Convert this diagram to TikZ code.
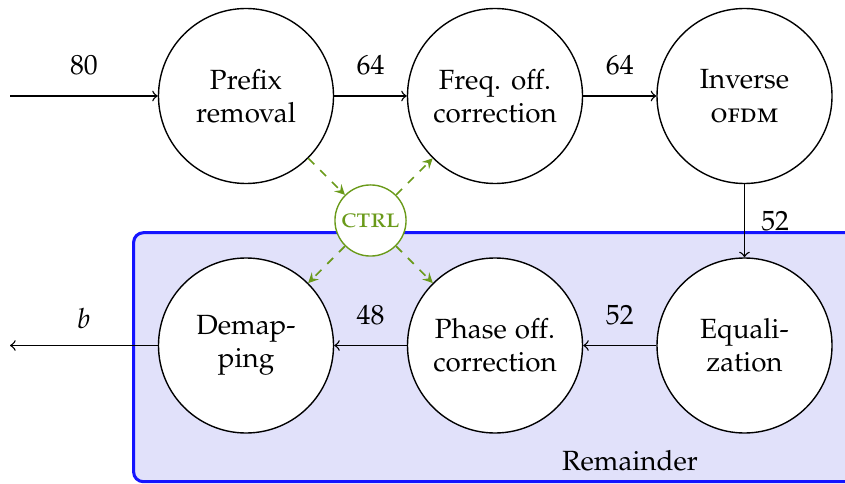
\documentclass[tikz,border=0pt]{standalone}
\usepackage[T1]{fontenc}
\usepackage[sc]{mathpazo}
\begin{document}
\begin{tikzpicture}[x=1pt,y=1pt,
  block/.style={circle,draw=drawColor,fill=white,line width=0.5pt,minimum size=63pt,inner sep=0pt,align=center},
  ctrlnode/.style={circle,draw=ctrlColor,fill=white,text=ctrlColor,line width=0.5pt,minimum size=25.6pt,inner sep=0pt},
  flow/.style={draw=drawColor,line width=0.5pt,->},
  ctrlflow/.style={draw=ctrlColor,line width=0.6pt,dashed,-stealth},
  rate/.style={inner sep=0pt,text=drawColor}]
\definecolor{drawColor}{RGB}{0,0,0}
\definecolor{ctrlColor}{RGB}{106,154,26}
\definecolor{boxColor}{RGB}{20,20,255}
\definecolor{boxFill}{RGB}{225,225,250}
\path[use as bounding box] (0,0) rectangle (304.20,173.88);
\begin{scope}
\path[clip] (  0.00,  0.00) rectangle (304.20,173.88);

\path[draw=boxColor,fill=boxFill,line width=1.1pt,rounded corners=3.5pt] ( 48.10,  0.47) rectangle (308.34, 90.10);

\node[anchor=base,inner sep=0pt] (remainder) at (226.80,  4.68) {Remainder};
\end{scope}

% stages
\node[block] (prefix) at ( 88.56,139.32) {Prefix\\removal};
\node[block] (freq) at (178.20,139.32) {Freq. off.\\correction};
\node[block] (inverse) at (268.02,139.32) {Inverse\\\textsc{ofdm}};
\node[block] (equal) at (268.02, 49.50) {Equali-\\zation};
\node[block] (phase) at (178.20, 49.50) {Phase off.\\correction};
\node[block] (demap) at ( 88.56, 49.50) {Demap-\\ping};
\node[ctrlnode] (ctrl) at (133.38, 94.50) {\textsc{ctrl}};

\coordinate (input) at (  3.60,139.32);
\coordinate (output) at (  3.60, 49.50);

% data path
\draw[flow] (input) -- (prefix) node[midway,above=7.2pt,rate] {80};
\draw[flow] (prefix) -- (freq) node[midway,above=7.2pt,rate] {64};
\draw[flow] (freq) -- (inverse) node[midway,above=7.2pt,rate] {64};
\draw[flow] (inverse) -- (equal) node[midway,right=5.8pt,rate] {52};
\draw[flow] (equal) -- (phase) node[midway,above=7.2pt,rate] {52};
\draw[flow] (phase) -- (demap) node[midway,above=7.2pt,rate] {48};
\draw[flow] (demap) -- (output) node[midway,above=5.6pt,rate] {$b$};

% control
\draw[ctrlflow] (prefix) -- (ctrl);
\draw[ctrlflow] (ctrl) -- (freq);
\draw[ctrlflow] (ctrl) -- (demap);
\draw[ctrlflow] (ctrl) -- (phase);
\end{tikzpicture}
\end{document}
